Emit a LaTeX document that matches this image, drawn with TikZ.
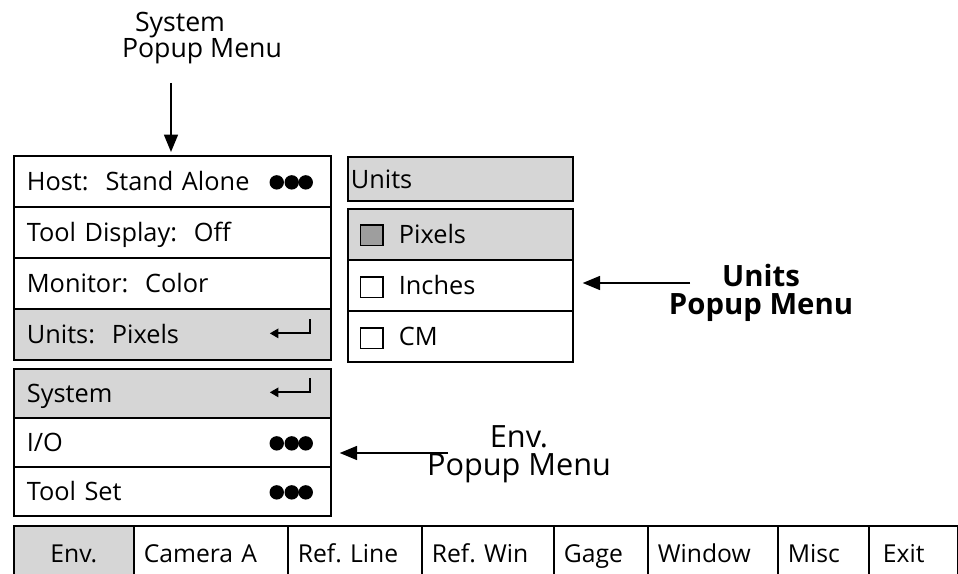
\documentclass[tikz,border=0pt]{standalone}
\usepackage{fontspec}
\setmainfont{Open Sans}
\frenchspacing
\usetikzlibrary{calc,arrows.meta}
\begin{document}
\begin{tikzpicture}[x=0.75pt,y=-0.75pt,
  stip/.style={fill=black!16},
  mrow/.style={draw, line width=1.3pt, anchor=north west, align=left, inner ysep=0pt,
    text height=15pt, text depth=1pt, font=\fontsize{19}{21}\selectfont},
  sysrow/.style={mrow, text width=218.25pt, inner xsep=9.75pt, minimum height=38.25pt},
  envrow/.style={mrow, text width=218.25pt, inner xsep=9.75pt, minimum height=36.75pt},
  unhead/.style={mrow, text width=164.25pt, inner xsep=2.25pt, minimum height=33pt},
  unrow/.style={mrow, text width=92.25pt, inner xsep=38.25pt, minimum height=38.25pt},
  barcell/.style={mrow, inner xsep=7.5pt, minimum height=39pt, text height=17pt, text depth=0.5pt,
    font=\fontsize{18.5}{21}\selectfont},
  cb/.style={draw, line width=1pt, minimum width=17pt, minimum height=15.5pt, inner sep=0pt},
  arr/.style={line width=1.1pt, -{Triangle[length=13pt,width=10.5pt]}},
  ret/.style={line width=1.5pt, line join=miter, -{Triangle[length=6.5pt,width=7pt]}},
  lab/.style={inner sep=0pt, font=\fontsize{23}{21}\selectfont},
  dot/.style={fill=black}
]
\useasboundingbox (0,0) rectangle (958,574);

% System popup menu
\node[sysrow] (host) at (13,155) {Host:\ \ Stand Alone};
\node[sysrow] (tool) at (13,206) {Tool Display:\ \ Off};
\node[sysrow] (mon) at (13,257) {Monitor:\ \ Color};
\node[sysrow, stip] (units) at (13,308) {Units:\ \ Pixels};

% Env popup menu
\node[envrow, stip] (sys) at (13,368) {System};
\node[envrow] (io) at (13,417) {I/O};
\node[envrow] (tset) at (13,466) {Tool Set};

% Units popup menu
\node[unhead, stip] (uhead) at (347,156) {Units};
\node[unrow, stip] (pix) at (347,208) {Pixels};
\node[unrow] (inches) at (347,259) {Inches};
\node[unrow] (cm) at (347,310) {CM};
\node[cb, fill=black!38] (cbpix) at ($(pix.west)+(24.5,1)$) {};
\node[cb] (cbinch) at ($(inches.west)+(24.5,2)$) {};
\node[cb] (cbcm) at ($(cm.west)+(24.5,2)$) {};

% dots
\foreach \r in {host,io,tset}{
  \foreach \dx in {-55,-40,-26}{
    \fill[dot] ($(\r.east)+(\dx,1)$) circle[radius=5.4pt];
  }
}
% return symbols
\foreach \r in {units,sys}{
  \draw[ret] ($(\r.east)+(-22,-15)$) -- ($(\r.east)+(-22,-1)$) -- ($(\r.east)+(-62,-1)$);
}

% bottom bar
\node[barcell, stip, text width=75pt, align=center] (benv) at (13,525) {Env.};
\node[barcell, text width=100.5pt] (bcam) at (133,525) {Camera A};
\node[barcell, text width=85.5pt] (bline) at (287,525) {Ref. Line};
\node[barcell, text width=84pt] (bwin) at (421,525) {Ref. Win};
\node[barcell, text width=55.5pt] (bgage) at (553,525) {Gage};
\node[barcell, text width=82.5pt] (bwindow) at (647,525) {Window};
\node[barcell, text width=53.25pt] (bmisc) at (777,525) {Misc};
\node[barcell, text width=51.75pt] (bexit) at (868,525) {\hspace*{3pt}Exit};

% labels
\node[lab, align=left, font=\fontsize{20}{19.5}\selectfont] (syslab) at (202,38) {\hspace*{9.75pt}System\\Popup Menu};
\node[lab, align=center, font=\fontsize{22}{20.5}\bfseries\selectfont] (unlab) at (761,293) {Units\\Popup Menu};
\node[lab, align=center] (envlab) at (519,454) {Env.\\Popup Menu};

% connectors
\coordinate (sA) at (171,83);
\draw[arr, shorten >=2.25pt] (sA) -- (sA |- host.north);
\coordinate (uA) at (690,283);
\draw[arr, shorten >=6.75pt] (uA) -- (uA -| inches.east);
\coordinate (eA) at (448,453);
\draw[arr, shorten >=6pt] (eA) -- (eA -| io.east);
\end{tikzpicture}
\end{document}
